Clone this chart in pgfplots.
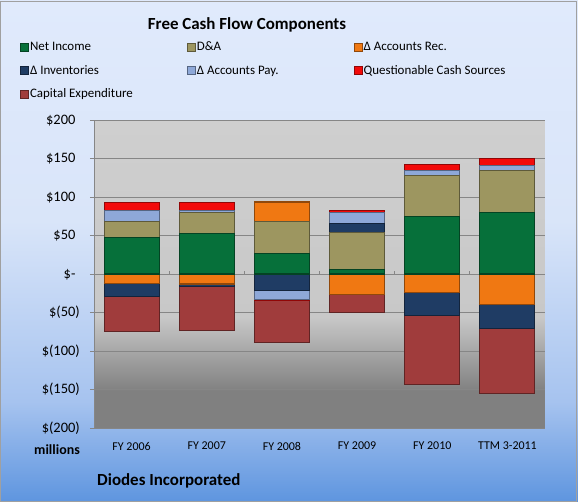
\documentclass[border=0pt]{standalone}
\usepackage{fontspec}
\setmainfont{Carlito}
\usepackage{pgfplots}
\pgfplotsset{compat=1.18}
\usepackage{pgfplotstable}

\definecolor{cNI}{HTML}{06703A}
\definecolor{cDA}{HTML}{9D9660}
\definecolor{cAR}{HTML}{F07812}
\definecolor{cINV}{HTML}{1F3C64}
\definecolor{cAP}{HTML}{8EA8D8}
\definecolor{cQCS}{HTML}{F20A0A}
\definecolor{cCAP}{HTML}{A03C3C}
\definecolor{gridc}{HTML}{868686}
\definecolor{pgA}{HTML}{808080}
\definecolor{pgB}{HTML}{C8C8C8}
\definecolor{pgC}{HTML}{CFCFCF}
\definecolor{bgA}{HTML}{5E95DF}
\definecolor{bgB}{HTML}{A6C3EF}
\definecolor{bgC}{HTML}{D9E5F9}
\definecolor{bgD}{HTML}{E0EAFC}
\definecolor{borderc}{HTML}{A0A0A0}

\pgfdeclareverticalshading{plotbg}{100bp}{color(0bp)=(pgA); color(25bp)=(pgA); color(31bp)=(pgA); color(43bp)=(pgB); color(75bp)=(pgC); color(100bp)=(pgC)}
\pgfdeclareverticalshading{chartbg}{100bp}{color(0bp)=(bgA); color(25bp)=(bgA); color(35bp)=(bgB); color(53bp)=(bgC); color(75bp)=(bgD); color(100bp)=(bgD)}

\pgfplotstableread{
x ni da arp invp app qcsp arn invn apn qcsn capex
0 47.8 20.5 0    0    14.0 11.0 -12.2 -17.0 0     0    -45.7
1 53.0 27.4 0    0    2.0  11.0 -13.0 -3.5  0     0    -57.4
2 27.0 41.7 24.8 0    0    0    0     -20.9 -11.7 -2.0 -54.0
3 6.1  47.8 0    11.3 14.8 2.6  -27.0 0     0     0    -23.0
4 74.8 52.6 0    0    7.4  7.4  -23.9 -30.4 0     0    -89.2
5 80.4 53.5 0    0    7.4  8.3  -40.0 -30.4 0     0    -85.2
}\data

\begin{document}
\begin{tikzpicture}
\fill[shading=chartbg] (0,0) rectangle (578bp,-502bp);
\draw[borderc, line width=1bp] (0.5bp,-1.5bp) rectangle (576.5bp,-501.5bp);
\begin{axis}[
  at={(94bp,-428bp)}, anchor=south west,
  scale only axis, width=451bp, height=308bp,
  ybar stacked, bar width=55bp,
  xmin=-0.5, xmax=5.5, ymin=-200, ymax=200,
  axis background/.style={shading=plotbg},
  axis lines*=left,
  axis line style={gridc, line width=0.8bp},
  ytick={-200,-150,...,200},
  yticklabels={\$(200),\$(150),\$(100),\$(50),\$-\phantom{)},\$50\phantom{)},\$100\phantom{)},\$150\phantom{)},\$200\phantom{)}},
  xtick={0,...,5},
  xticklabels={FY 2006,FY 2007,FY 2008,FY 2009,FY 2010,TTM 3-2011},
  xtick style={draw=none},
  ytick style={gridc, line width=0.8bp},
  tick align=outside, major tick length=4bp,
  ymajorgrids, major grid style={gridc, line width=0.8bp},
  yticklabel style={font=\fontsize{14.5}{16}\selectfont, anchor=east, inner sep=0pt, xshift=-10bp},
  xticklabel style={font=\fontsize{12}{14}\selectfont, anchor=north, inner sep=0pt, yshift=-10bp},
  legend columns=3,
  legend style={at={(axis description cs:-0.164,1.257)}, anchor=north west, draw=none, fill=none,
    font=\fontsize{13}{15}\selectfont, inner sep=0pt, row sep=11bp,
    nodes={inner sep=1bp},
    /tikz/every even column/.append style={column sep=0bp}},
  legend image code/.code={\draw[#1, line width=0.8bp] (0bp,-4bp) rectangle (8bp,4bp);},
  every axis plot/.append style={line width=1.1bp},
]
\addplot[fill=cNI, draw=cNI!60!black] table[x=x,y=ni]{\data};
\addlegendentry{\makebox[156bp][l]{Net Income}}
\addplot[fill=cDA, draw=cDA!60!black] table[x=x,y=da]{\data};
\addlegendentry{\makebox[156bp][l]{D\&A}}
\addplot[fill=cAR, draw=cAR!60!black] table[x=x,y=arp]{\data};
\addlegendentry{\makebox[156bp][l]{Δ Accounts Rec.}}
\addplot[fill=cINV, draw=cINV!60!black] table[x=x,y=invp]{\data};
\addlegendentry{\makebox[156bp][l]{Δ Inventories}}
\addplot[fill=cAP, draw=cAP!60!black] table[x=x,y=app]{\data};
\addlegendentry{\makebox[156bp][l]{Δ Accounts Pay.}}
\addplot[fill=cQCS, draw=cQCS!60!black] table[x=x,y=qcsp]{\data};
\addlegendentry{\makebox[156bp][l]{Questionable Cash Sources}}
\addplot[fill=cAR, draw=cAR!60!black, forget plot] table[x=x,y=arn]{\data};
\addplot[fill=cINV, draw=cINV!60!black, forget plot] table[x=x,y=invn]{\data};
\addplot[fill=cAP, draw=cAP!60!black, forget plot] table[x=x,y=apn]{\data};
\addplot[fill=cQCS, draw=cQCS!60!black, forget plot] table[x=x,y=qcsn]{\data};
\addplot[fill=cCAP, draw=cCAP!60!black] table[x=x,y=capex]{\data};
\addlegendentry{\makebox[156bp][l]{Capital Expenditure}}
\draw[gridc, line width=0.8bp] (axis cs:-0.5,0) -- (axis cs:5.5,0);
\pgfplotsinvokeforeach{0.5,1.5,2.5,3.5,4.5,5.5}{\draw[gridc, line width=0.8bp] (axis cs:#1,0) -- ++(0pt,3bp);}
\end{axis}
\node[font=\fontsize{17}{20}\selectfont\bfseries] at (247bp,-25bp) {Free Cash Flow Components};
\node[font=\fontsize{14}{16}\selectfont\bfseries, anchor=east, inner sep=0pt] at (80bp,-450bp) {millions};
\node[font=\fontsize{17}{20}\selectfont\bfseries, anchor=west, inner sep=0pt] at (97bp,-481bp) {Diodes Incorporated};
\pgfresetboundingbox
\useasboundingbox (0,0) rectangle (578bp,-502bp);
\end{tikzpicture}
\end{document}
